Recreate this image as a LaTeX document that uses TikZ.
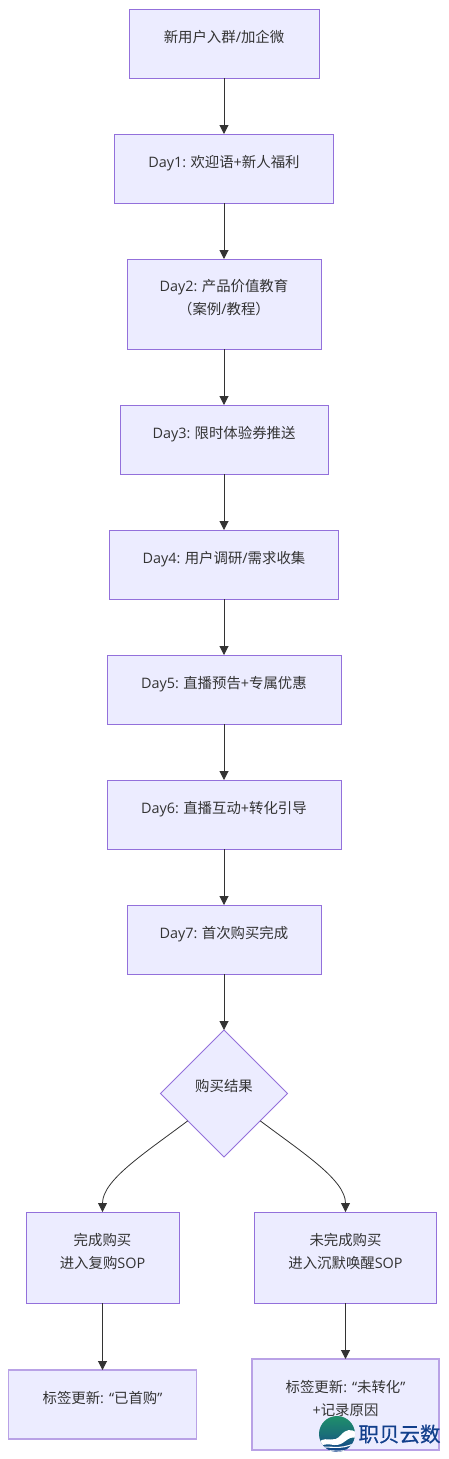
\documentclass[tikz,border=0pt]{standalone}
\usepackage{fontspec}
\setmainfont{Noto Sans CJK SC}
\newfontfamily\latfont{Open Sans}
\newfontfamily\markfont[FakeBold=0.5]{Noto Sans CJK SC}
\usetikzlibrary{arrows.meta,shapes.geometric}
\definecolor{nodefill}{HTML}{ECECFF}
\definecolor{nodeline}{HTML}{9370DB}
\definecolor{softline}{HTML}{B9A2E6}
\definecolor{ink}{HTML}{333333}
\definecolor{markblue}{HTML}{123F8C}
\definecolor{markgreen}{HTML}{1F8F6A}
\newcommand{\lat}[1]{{\latfont #1}}
\newcommand{\boxtext}[2][1.7pt]{\raisebox{#1}[0pt][0pt]{\fontsize{14.4pt}{23pt}\selectfont\begin{tabular}{@{}c@{}}#2\end{tabular}}}
\tikzset{
  flowbox/.style={draw=nodeline,fill=nodefill,line width=1pt,text=ink,inner sep=0pt,outer sep=0pt},
  softbox/.style={flowbox,draw=softline,line width=1.5pt},
  decision/.style={flowbox,diamond,aspect=1,minimum width=127pt,minimum height=127pt},
  flow/.style={draw=ink,line width=1pt,-{Triangle[length=9pt,width=9pt]}},
  curved/.style={draw=ink,line width=0.8pt,-{Triangle[length=9pt,width=9pt]}}
}
\begin{document}
\begin{tikzpicture}[x=1pt,y=-1pt]
\useasboundingbox[fill=white] (0,0) rectangle (448,1459);
\node[flowbox,minimum width=190pt,minimum height=69pt] (a) at (224,43.5) {\boxtext{新用户入群\lat{/}加企微}};
\node[flowbox,minimum width=219pt,minimum height=69pt] (b) at (224,168.5) {\boxtext{\lat{Day1:} 欢迎语\lat{+}新人福利}};
\node[flowbox,minimum width=194pt,minimum height=90pt] (c) at (224,304) {\boxtext{\lat{Day2:} 产品价值教育\\（案例\lat{/}教程）}};
\node[flowbox,minimum width=208pt,minimum height=69pt] (d) at (224,439.5) {\boxtext{\lat{Day3:} 限时体验券推送}};
\node[flowbox,minimum width=229pt,minimum height=69pt] (e) at (224,564.5) {\boxtext{\lat{Day4:} 用户调研\lat{/}需求收集}};
\node[flowbox,minimum width=234pt,minimum height=69pt] (f) at (224,689.5) {\boxtext{\lat{Day5:} 直播预告\lat{+}专属优惠}};
\node[flowbox,minimum width=234pt,minimum height=69pt] (g) at (224,814.5) {\boxtext{\lat{Day6:} 直播互动\lat{+}转化引导}};
\node[flowbox,minimum width=194pt,minimum height=69pt] (h) at (224,939.5) {\boxtext{\lat{Day7:} 首次购买完成}};
\node[decision] (i) at (224,1093.5) {\boxtext[3.5pt]{购买结果}};
\node[flowbox,minimum width=153pt,minimum height=91pt] (j) at (102.5,1257.5) {\boxtext{完成购买\\进入复购\lat{SOP}}};
\node[flowbox,minimum width=182pt,minimum height=91pt] (k) at (345.5,1257.5) {\boxtext{未完成购买\\进入沉默唤醒\lat{SOP}}};
\node[softbox,minimum width=188pt,minimum height=69pt] (l) at (102.5,1404.5) {\boxtext{标签更新\lat{: “}已首购\lat{”}}};
\node[softbox,minimum width=187pt,minimum height=91pt] (m) at (345.5,1404.5) {\boxtext{标签更新\lat{: “}未转化\lat{”}\\\lat{+}记录原因}};
\draw[flow] (a) -- (b);
\draw[flow] (b) -- (c);
\draw[flow] (c) -- (d);
\draw[flow] (d) -- (e);
\draw[flow] (e) -- (f);
\draw[flow] (f) -- (g);
\draw[flow] (g) -- (h);
\draw[flow] (h.south) -- (i.north);
\draw[curved] (i.217.5) .. controls (145,1153) and (102.5,1180) .. (j.north);
\draw[curved] (i.-37.5) .. controls (303,1153) and (345.5,1180) .. (k.north);
\draw[flow] (j) -- (l);
\draw[flow] (k) -- (m);
% watermark
\begin{scope}
\clip (337,1434) circle (18);
\shade[top color=markgreen,bottom color=markblue,middle color=markgreen!60!markblue] (318,1416) rectangle (356,1452);
\fill[white] (320,1441) .. controls (328,1436) and (333,1444) .. (341,1435) .. controls (346,1429) and (351,1429) .. (356,1432) -- (356,1438) .. controls (347,1435) and (345,1446) .. (334,1445) .. controls (329,1444) and (324,1444) .. (320,1446) -- cycle;
\draw[white,line width=1.1pt] (319,1448) .. controls (328,1445) and (340,1451) .. (355,1443);
\draw[white,line width=0.9pt] (322,1451) .. controls (330,1449) and (340,1454) .. (352,1448);
\end{scope}
\node[inner sep=0pt,text=markblue,font=\fontsize{20.5pt}{20.5pt}\markfont] (mark) at (399.5,1434) {职贝云数};
\end{tikzpicture}
\end{document}
